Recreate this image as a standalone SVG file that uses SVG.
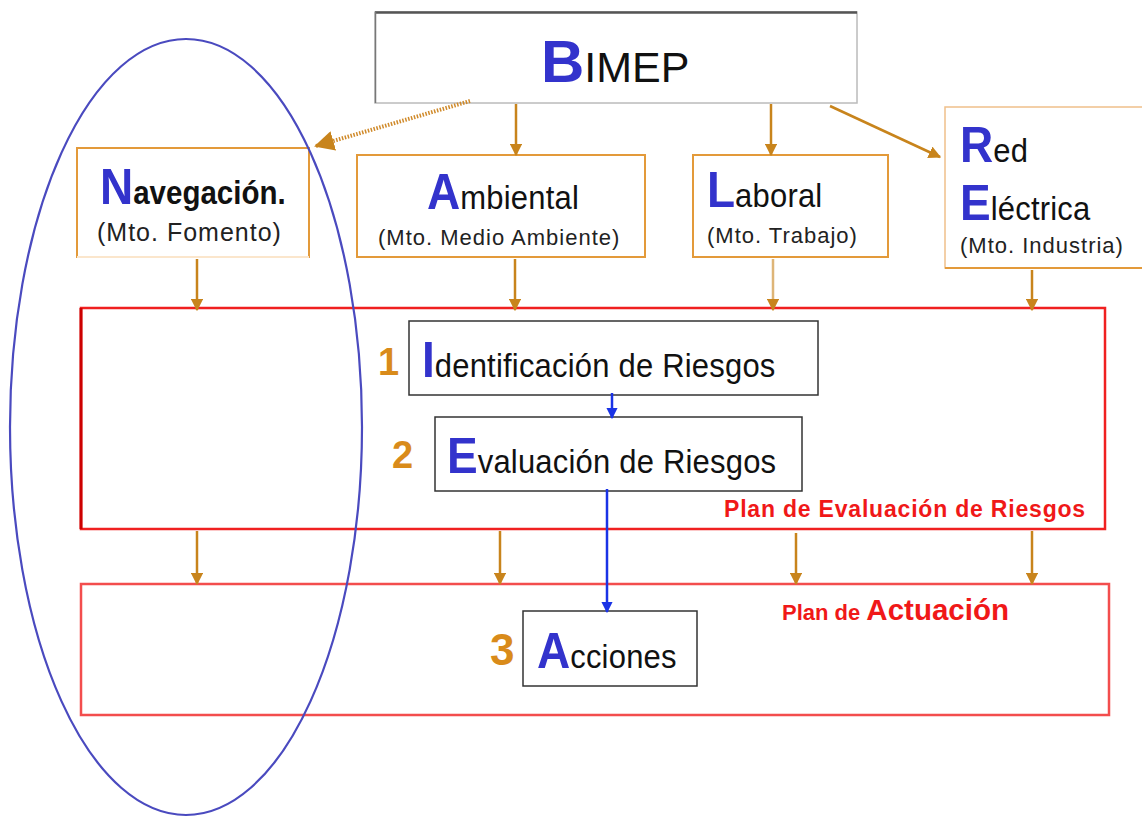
<svg xmlns="http://www.w3.org/2000/svg" width="1142" height="817" viewBox="0 0 1142 817">
<defs>
<style>
text{font-family:"Liberation Sans",Arial,sans-serif;fill:#111}
.cap{fill:#3333cc;font-weight:bold;font-size:46px;letter-spacing:0}
.main{font-size:31px;letter-spacing:0.2px}
.sub{fill:#222;letter-spacing:1px}
.num{fill:#d98b1a;font-weight:bold}
.obox{fill:#fff;stroke:#e39a3a;stroke-width:2}
.gbox{fill:#fff;stroke:#333;stroke-width:1.5}
.rbox{fill:none;stroke:#f02020;stroke-width:2.5}
.oa{stroke:#c8841c;stroke-width:2.5;fill:none;marker-end:url(#ah)}
.ba{stroke:#1a33e6;stroke-width:2.5;fill:none;marker-end:url(#bh)}
.red{fill:#f01818;font-weight:bold}
</style>
<marker id="ah" viewBox="0 0 10 10" refX="9" refY="5" markerWidth="5" markerHeight="5" orient="auto" markerUnits="strokeWidth"><path d="M0,0 L10,5 L0,10 z" fill="#c8841c"/></marker>
<marker id="bh" viewBox="0 0 10 10" refX="9" refY="5" markerWidth="4.5" markerHeight="4.5" orient="auto" markerUnits="strokeWidth"><path d="M0,0 L10,5 L0,10 z" fill="#1a33e6"/></marker>
</defs>
<rect width="1142" height="817" fill="#fff"/>

<g id="plan-evaluacion">
<rect class="rbox" x="81" y="308" width="1024" height="221"/>
<line x1="81" y1="308" x2="81" y2="529" stroke="#c00" stroke-width="3"/>
<text class="red" x="724" y="517" font-size="23" letter-spacing="0.8">Plan de Evaluación de Riesgos</text>
</g>
<g id="plan-actuacion">
<rect class="rbox" x="81" y="584" width="1028" height="131" stroke-opacity="0.8"/>
<text class="red" x="782" y="620" font-size="22">Plan de <tspan font-size="29.5">Actuación</tspan></text>
</g>

<g id="bimep">
<rect x="375" y="12" width="482" height="91" fill="#fff" stroke="#bbb" stroke-width="1.5"/>
<line x1="375" y1="12.5" x2="857" y2="12.5" stroke="#555" stroke-width="2.5"/>
<line x1="375.5" y1="12" x2="375.5" y2="103" stroke="#777" stroke-width="1.5"/>
<text x="541" y="82" font-size="43"><tspan fill="#3333cc" font-size="60" font-weight="bold">B</tspan>IMEP</text>
</g>

<g id="navegacion">
<rect class="obox" x="77" y="148" width="232" height="109"/>
<line x1="77" y1="257" x2="309" y2="257" stroke="#fbe6cc" stroke-width="2"/>
<text transform="translate(100,204) scale(1,1.1)" font-size="29.5" font-weight="bold" fill="#222"><tspan class="cap">N</tspan>avegación.</text>
<text class="sub" x="97" y="241" font-size="25" letter-spacing="1.5">(Mto. Fomento)</text>
</g>

<g id="ambiental">
<rect class="obox" x="357" y="155" width="288" height="102"/>
<text class="main" transform="translate(427,209) scale(1,1.1)"><tspan class="cap">A</tspan>mbiental</text>
<text class="sub" x="378" y="245" font-size="22">(Mto. Medio Ambiente)</text>
</g>

<g id="laboral">
<rect class="obox" x="693" y="155" width="195" height="102"/>
<text class="main" transform="translate(707,207) scale(1,1.1)"><tspan class="cap">L</tspan>aboral</text>
<text class="sub" x="707" y="243" font-size="22">(Mto. Trabajo)</text>
</g>

<g id="red-electrica">
<rect x="945" y="107" width="200" height="161" fill="#fff" stroke="#f0c08a" stroke-width="1.5"/>
<line x1="945" y1="268" x2="1142" y2="268" stroke="#e39a3a" stroke-width="2"/>
<text class="main" transform="translate(960,162) scale(1,1.1)"><tspan class="cap">R</tspan>ed</text>
<text class="main" transform="translate(960,220) scale(1,1.1)"><tspan class="cap">E</tspan>léctrica</text>
<text class="sub" x="960" y="253" font-size="22">(Mto. Industria)</text>
</g>

<g id="identificacion">
<rect class="gbox" x="409" y="321" width="409" height="74"/>
<text class="num" x="378" y="375" font-size="38">1</text>
<text class="main" transform="translate(422,377) scale(1,1.1)"><tspan class="cap">I</tspan>dentificación de Riesgos</text>
</g>

<g id="evaluacion">
<rect class="gbox" x="435" y="417" width="367" height="74"/>
<text class="num" x="392" y="468" font-size="38">2</text>
<text class="main" transform="translate(447,473) scale(1,1.1)"><tspan class="cap">E</tspan>valuación de Riesgos</text>
</g>

<g id="acciones">
<rect class="gbox" x="523" y="611" width="174" height="75"/>
<text class="num" x="490" y="665" font-size="44">3</text>
<text class="main" transform="translate(537,668) scale(1,1.1)"><tspan class="cap">A</tspan>cciones</text>
</g>

<g id="connectors">
<line x1="470" y1="101" x2="316" y2="146" stroke="#d08a2a" stroke-width="4" stroke-dasharray="1.5 1.5" marker-end="url(#ah)"/>
<line class="oa" x1="516" y1="104" x2="516" y2="155"/>
<line class="oa" x1="771" y1="104" x2="771" y2="155"/>
<line class="oa" x1="830" y1="106" x2="940" y2="157"/>
<line class="oa" x1="197" y1="259" x2="197" y2="310"/>
<line class="oa" x1="515" y1="259" x2="515" y2="310"/>
<line class="oa" x1="773" y1="259" x2="773" y2="310" stroke-opacity="0.6"/>
<line class="oa" x1="1032" y1="270" x2="1032" y2="310"/>
<line class="oa" x1="197" y1="531" x2="197" y2="584"/>
<line class="oa" x1="500" y1="531" x2="500" y2="584"/>
<line class="oa" x1="796" y1="533" x2="796" y2="584"/>
<line class="oa" x1="1032" y1="531" x2="1032" y2="584"/>
<line class="ba" x1="612" y1="393" x2="612" y2="418"/>
<line class="ba" x1="607" y1="489" x2="607" y2="612"/>
</g>

<g id="ellipse">
<ellipse cx="186" cy="427" rx="176" ry="388" fill="none" stroke="#4a4abf" stroke-width="2.2"/>
</g>
</svg>
